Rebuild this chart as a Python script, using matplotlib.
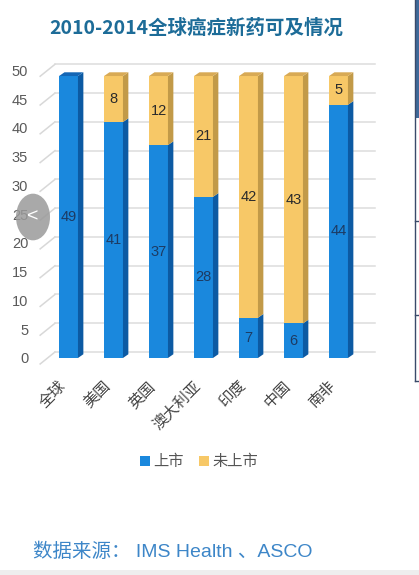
import matplotlib
matplotlib.use('Agg')
import matplotlib.pyplot as plt
from matplotlib.patches import Polygon, Rectangle, Patch, Circle
from matplotlib.transforms import ScaledTranslation

plt.rcParams['font.family'] = ['Liberation Sans', 'Noto Sans CJK SC']

# donnees du graphique
categories = ['全球', '美国', '英国', '澳大利亚', '印度', '中国', '南非']
listed = [49, 41, 37, 28, 7, 6, 44]
not_listed = [0, 8, 12, 21, 42, 43, 5]
series_names = ['上市', '未上市']
yticks = [0, 5, 10, 15, 20, 25, 30, 35, 40, 45, 50]

# couleurs : face avant, cote, dessus
blue = ('#1a88dd', '#0c5aa3', '#1466b5')
yellow = ('#f7c867', '#c29a48', '#d8aa55')

W = 0.42    # largeur barre
DX = 0.12   # profondeur en x
DY = 0.65   # profondeur en y


def bar3d(ax, x, y0, h, colors, top):
    x0, x1 = x - W / 2, x + W / 2
    ax.add_patch(Rectangle((x0, y0), W, h, facecolor=colors[0], edgecolor='none', zorder=3))
    ax.add_patch(Polygon([(x1, y0), (x1 + DX, y0 + DY), (x1 + DX, y0 + h + DY), (x1, y0 + h)],
                         closed=True, facecolor=colors[1], edgecolor='none', zorder=3))
    if top:
        ax.add_patch(Polygon([(x0, y0 + h), (x1, y0 + h), (x1 + DX, y0 + h + DY), (x0 + DX, y0 + h + DY)],
                             closed=True, facecolor=colors[2], edgecolor='none', zorder=4))


fig = plt.figure(figsize=(4.19, 5.75), dpi=100)
ax = fig.add_axes([0.0937, 0.3674, 0.8001, 0.5304])
ax.set_xlim(-0.65, 6.8)
ax.set_ylim(-1, 52)

# grille avec petit decalage "3D"
for t in yticks:
    ax.plot([-0.63, -0.30], [t - 1.04, t + 1.04], color='#d8d8d8', lw=1.1, zorder=1, clip_on=False)
    ax.plot([-0.30, 6.8], [t + 1.04, t + 1.04], color='#dcdcdc', lw=1.1, zorder=1, clip_on=False)

for i in range(len(categories)):
    a = listed[i]
    b = not_listed[i]
    bar3d(ax, i, 0, a, blue, top=(b == 0))
    if b > 0:
        bar3d(ax, i, a, b, yellow, top=True)
    ax.text(i, a / 2, str(a), ha='center', va='center', fontsize=10.5, color='#1d3b63', zorder=5)
    if b > 0:
        ax.text(i, a + b / 2, str(b), ha='center', va='center', fontsize=10.5, color='#2b2b2b', zorder=5)

ax.set_yticks(yticks)
ax.set_yticklabels([str(t) for t in yticks], fontsize=10.5, color='#5a5a5a')
for lab in ax.get_yticklabels():
    lab.set_transform(lab.get_transform() + ScaledTranslation(0, -4.5 / 100, fig.dpi_scale_trans))
ax.set_xticks(range(len(categories)))
ax.set_xticklabels(categories, rotation=45, ha='right', fontsize=11, color='#444444')
ax.tick_params(axis='y', length=0, pad=8)
ax.tick_params(axis='x', length=0, pad=11)
for s in ax.spines.values():
    s.set_visible(False)

fig.text(196 / 419, 1 - 28 / 575, '2010-2014全球癌症新药可及情况', ha='center', va='center',
         fontsize=14, fontweight='bold', color='#1d6c98',
         family=['Noto Sans CJK SC', 'Liberation Sans'])

handles = [Patch(facecolor=blue[0], edgecolor='none'), Patch(facecolor=yellow[0], edgecolor='none')]
leg = fig.legend(handles, series_names, loc='center', bbox_to_anchor=(199 / 419, 1 - 462 / 575),
                 ncol=2, frameon=False, fontsize=11, handlelength=0.65, handleheight=0.65,
                 handletextpad=0.2, columnspacing=1.0)
for txt in leg.get_texts():
    txt.set_color('#555555')

fig.text(33 / 419, 1 - 552 / 575, '数据来源： IMS Health 、ASCO', ha='left', va='center',
         fontsize=14, color='#3d86c8')

# elements de la capture d'ecran
fig.patches.append(Circle((33 / 419, 1 - 217 / 575), 17 / 419, transform=fig.transFigure,
                          facecolor='#9a9a9a', edgecolor='none', alpha=0.85, zorder=10))
fig.text(33 / 419, 1 - 217 / 575, '<', ha='center', va='center', fontsize=14, color='white', zorder=11)
fig.add_artist(plt.Line2D([415 / 419, 415 / 419], [1, 1 - 381 / 575], color='#3a4a6a', lw=1))
fig.patches.append(Rectangle((415 / 419, 1 - 118 / 575), 4 / 419, 118 / 575, transform=fig.transFigure,
                             facecolor='#3f6a9a', edgecolor='none'))
for yy in [221, 315, 381]:
    fig.add_artist(plt.Line2D([415 / 419, 1], [1 - yy / 575, 1 - yy / 575], color='#3a4a6a', lw=1))
fig.patches.append(Rectangle((0, 0), 1, 5 / 575, transform=fig.transFigure,
                             facecolor='#eeeeee', edgecolor='none'))

fig.savefig('out.png', dpi=100)
